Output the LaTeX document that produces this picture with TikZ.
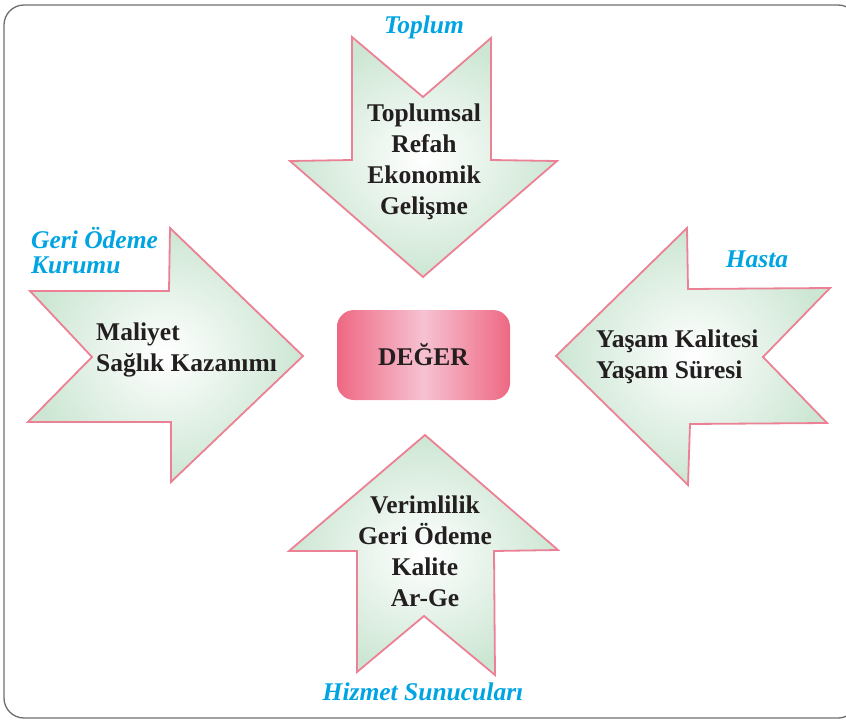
\documentclass[tikz,border=0pt]{standalone}
\usepackage{fontspec}
\setmainfont{Liberation Serif}
\definecolor{arrowgreen}{RGB}{204,230,211}
\definecolor{arrowpink}{RGB}{236,128,148}
\definecolor{labelblue}{RGB}{0,164,226}
\definecolor{degpink}{RGB}{238,104,130}
\definecolor{deglight}{RGB}{246,194,210}
\definecolor{framegray}{RGB}{110,110,110}
\definecolor{textdark}{RGB}{35,31,32}
\tikzset{
  arrowshape/.style={draw=arrowpink, line width=1.8pt, line join=miter, inner color=white, outer color=arrowgreen},
  bodytext/.style={font=\bfseries\fontsize{25.5}{31}\selectfont, text=textdark, inner sep=0pt},
  labeltext/.style={font=\bfseries\itshape\fontsize{25.5}{25}\selectfont, text=labelblue, inner sep=0pt},
}
\begin{document}
\begin{tikzpicture}[x=1pt,y=-1pt]
\useasboundingbox (0,0) rectangle (846,720);
\clip (0,0) rectangle (846,720);
\draw[framegray, line width=1.3pt, rounded corners=20pt] (4,5) rectangle (858,718);

% top arrow (pointing down)
\shadedraw[arrowshape] (352,37) -- (423,97) -- (491,38) -- (491,160) -- (557,161) -- (423,277) -- (290,161) -- (352,160) -- cycle;
% left arrow (pointing right)
\shadedraw[arrowshape] (30,291) -- (169,291) -- (170,228) -- (303,356) -- (171,482) -- (171,422) -- (28,422) -- (92,357) -- cycle;
% right arrow (pointing left)
\shadedraw[arrowshape] (687,228) -- (688,289) -- (830,288) -- (763,357) -- (827,423) -- (690,424) -- (688,485) -- (556,356) -- cycle;
% bottom arrow (pointing up)
\shadedraw[arrowshape] (425,435) -- (558,550) -- (494,551) -- (495,675) -- (424,616) -- (357,672) -- (357,551) -- (289,551) -- cycle;

% centre box
\shade[rounded corners=17pt, left color=degpink, right color=degpink, middle color=deglight] (337,310) rectangle (510,400);
\node[bodytext] (deger) at (423.5,355) {DEĞER};

% arrow texts
\node[bodytext, align=center] (toplumtext) at (424,162) {Toplumsal\\Refah\\Ekonomik\\Gelişme};
\node[bodytext, align=left, anchor=west] (odemetext) at (96,350) {Maliyet\\Sağlık Kazanımı};
\node[bodytext, align=left, anchor=west] (hastatext) at (596,357) {Yaşam Kalitesi\\Yaşam Süresi};
\node[bodytext, align=center] (hizmettext) at (425,551) {Verimlilik\\Geri Ödeme\\Kalite\\Ar-Ge};

% labels
\node[labeltext] (toplum) at (424,27) {Toplum};
\node[labeltext, align=left, anchor=west] (odeme) at (31,251) {Geri Ödeme\\Kurumu};
\node[labeltext] (hasta) at (757,259) {Hasta};
\node[labeltext] (hizmet) at (423,692) {Hizmet Sunucuları};
\end{tikzpicture}
\end{document}
